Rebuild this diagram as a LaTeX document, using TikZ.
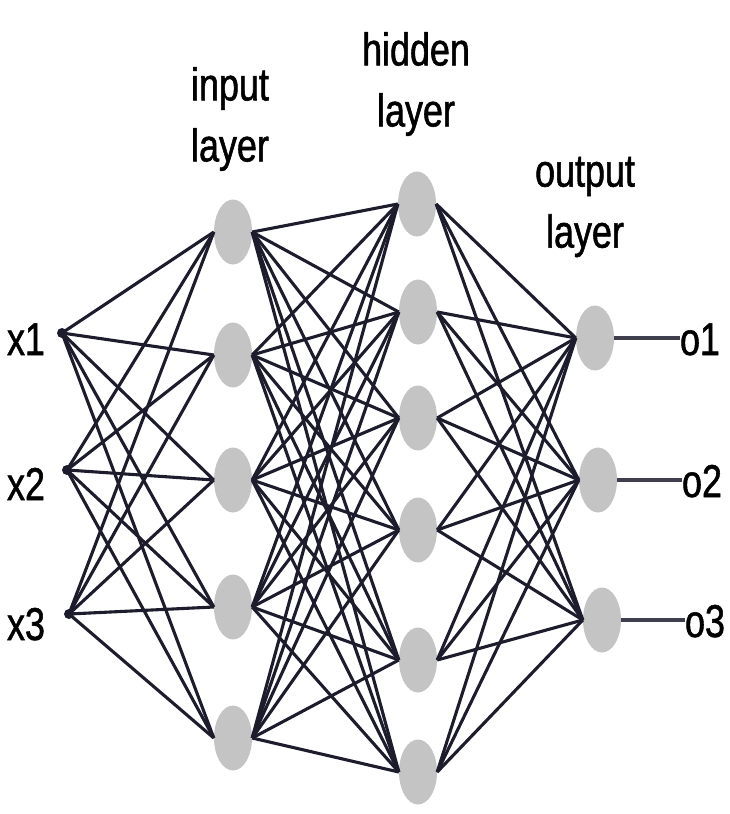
\documentclass[tikz,border=0pt]{standalone}
\usepackage{fontspec}
\setmainfont{Liberation Sans}[FakeStretch=0.78, FakeBold=1.2]
\usepackage{tikz}
\usetikzlibrary{positioning,shapes.geometric}

\definecolor{wire}{RGB}{28,28,44}
\definecolor{cell}{RGB}{196,196,196}

\begin{document}
\begin{tikzpicture}[
  x=1pt, y=-1pt,
  neuron/.style={ellipse, fill=cell, minimum width=38pt, minimum height=65pt, inner sep=0pt},
  dot/.style={circle, fill=wire, minimum size=10pt, inner sep=0pt},
  title/.style={align=center, inner sep=0pt, font=\fontsize{46}{61}\selectfont},
  tag/.style={inner sep=0pt, anchor=base, font=\fontsize{46}{50}\selectfont},
  link/.style={draw=wire, line width=3.1pt}
]
\useasboundingbox (0,0) rectangle (730,814);

% layer titles
\node[title] (tin) at (230,119) {input\\layer};
\node[title] (thid) at (416,84) {hidden\\layer};
\node[title] (tout) at (585,207) {output\\layer};

% inputs
\node[dot] (x1) at (62,333) {};
\node[dot] (x2) at (67,470) {};
\node[dot] (x3) at (69,614) {};
\node[tag] (lx1) at (26,355) {x1};
\node[tag] (lx2) at (26,500) {x2};
\node[tag] (lx3) at (26,640) {x3};

% input layer
\node[neuron] (in1) at (233,232) {};
\node[neuron] (in2) at (233,355) {};
\node[neuron] (in3) at (233,480) {};
\node[neuron] (in4) at (233,607) {};
\node[neuron] (in5) at (233,738) {};

% hidden layer
\node[neuron] (hid1) at (417,204) {};
\node[neuron] (hid2) at (418,312) {};
\node[neuron] (hid3) at (418,418) {};
\node[neuron] (hid4) at (418,530) {};
\node[neuron] (hid5) at (418,660) {};
\node[neuron] (hid6) at (418,772) {};

% output layer
\node[neuron] (out1) at (595,338) {};
\node[neuron] (out2) at (598,480) {};
\node[neuron] (out3) at (602,620) {};
\node[tag] (lo1) at (700,355) {o1};
\node[tag] (lo2) at (702,497) {o2};
\node[tag] (lo3) at (705,637) {o3};

% connections
\foreach \i in {1,2,3}
  \foreach \j in {1,...,5}
    \draw[link] (x\i.center) -- (in\j.west);
\foreach \i in {1,...,5}
  \foreach \j in {1,...,6}
    \draw[link] (in\i.east) -- (hid\j.west);
\foreach \i in {1,...,6}
  \foreach \j in {1,2,3}
    \draw[link] (hid\i.east) -- (out\j.west);
\foreach \j in {1,2,3}
  \draw[link, draw=wire!85, line width=3.6pt] (out\j.east) -- (lo\j.west |- out\j.east);

\end{tikzpicture}
\end{document}
